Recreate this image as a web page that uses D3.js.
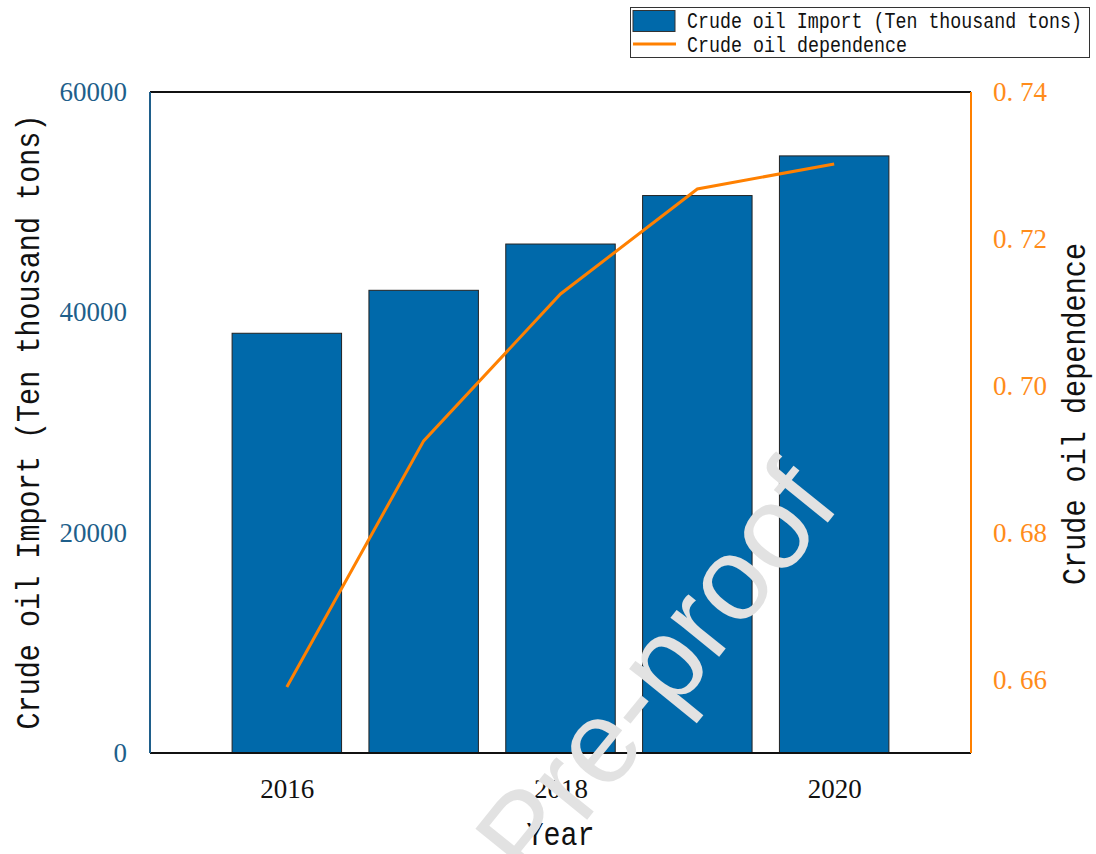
<!DOCTYPE html>
<html>
<head>
<meta charset="utf-8">
<script src="https://cdn.jsdelivr.net/npm/d3@7"></script>
<style>
  body { margin: 0; background: #fff; }
  svg { display: block; }
</style>
</head>
<body>
<div class="oil-viz"></div>
<script>
const WIDTH = 1096,
    HEIGHT = 854;

// data
const years = [2016, 2017, 2018, 2019, 2020];
const importValues = [38100, 42000, 46200, 50600, 54200];
const dependenceValues = [0.659, 0.6925, 0.7125, 0.7268, 0.7302];
const leftTicks = [0, 20000, 40000, 60000];
const rightTicks = [0.66, 0.68, 0.70, 0.72, 0.74];
const xTicks = [2016, 2018, 2020];

const BLUE = "#0069aa",
    ORANGE = "#ff8000",
    MONO = "'Liberation Mono', monospace",
    SERIF = "'Liberation Serif', serif";

const plot = { left: 150, right: 971, top: 92, bottom: 753 };

const svg = d3.select(".oil-viz")
    .append("svg")
    .attr("width", WIDTH)
    .attr("height", HEIGHT);

const x = d3.scaleLinear().domain([2015, 2021]).range([plot.left, plot.right]);
const yLeft = d3.scaleLinear().domain([0, 60000]).range([plot.bottom, plot.top]);
const yRight = d3.scaleLinear().domain([0.65, 0.74]).range([plot.bottom, plot.top]);

const barW = x(2015.8) - x(2015);

// bars
svg.append("g")
    .selectAll("rect")
    .data(years)
    .join("rect")
    .attr("x", (d) => x(d) - barW / 2)
    .attr("y", (d, i) => yLeft(importValues[i]))
    .attr("width", barW)
    .attr("height", (d, i) => yLeft(0) - yLeft(importValues[i]))
    .attr("fill", BLUE)
    .attr("stroke", "#222")
    .attr("stroke-width", 1);

// dependence line
const line = d3.line()
    .x((d) => x(d[0]))
    .y((d) => yRight(d[1]));

svg.append("path")
    .datum(years.map((y, i) => [y, dependenceValues[i]]))
    .attr("d", line)
    .attr("fill", "none")
    .attr("stroke", ORANGE)
    .attr("stroke-width", 3);

// axes
const gLeft = svg.append("g")
    .attr("transform", `translate(${plot.left},0)`)
    .call(d3.axisLeft(yLeft).tickValues(leftTicks).tickSize(0).tickPadding(23).tickFormat(d3.format("d")));

const gRight = svg.append("g")
    .attr("transform", `translate(${plot.right},0)`)
    .call(d3.axisRight(yRight).tickValues(rightTicks).tickSize(0).tickPadding(22)
        .tickFormat((d) => d3.format(".2f")(d).replace(".", ". ")));

const gBottom = svg.append("g")
    .attr("transform", `translate(0,${plot.bottom})`)
    .call(d3.axisBottom(x).tickValues(xTicks).tickSize(0).tickPadding(26).tickFormat(d3.format("d")));

[gLeft, gRight, gBottom].forEach((g) => {
    g.select(".domain").remove();
    g.selectAll("text").style("font-family", SERIF).style("font-size", "27px");
});
gLeft.selectAll("text").attr("fill", "#1f5f8b");
gRight.selectAll("text").attr("fill", "#ff8c1a");
gBottom.selectAll("text").attr("fill", "#111");

// spines
const spine = (x1, y1, x2, y2, color) => svg.append("line")
    .attr("x1", x1).attr("y1", y1).attr("x2", x2).attr("y2", y2)
    .attr("stroke", color).attr("stroke-width", 2);
spine(plot.left, plot.top, plot.right, plot.top, "#111");
spine(plot.left, plot.bottom, plot.right, plot.bottom, "#111");
spine(plot.left, plot.top, plot.left, plot.bottom, "#1f5f8b");
spine(plot.right, plot.top, plot.right, plot.bottom, ORANGE);

// axis titles
svg.append("text")
    .attr("transform", "translate(39,422) rotate(-90)")
    .attr("text-anchor", "middle")
    .attr("textLength", 615)
    .attr("lengthAdjust", "spacingAndGlyphs")
    .style("font-family", MONO)
    .style("font-size", "33px")
    .attr("fill", "#111")
    .text("Crude oil Import (Ten thousand tons)");

svg.append("text")
    .attr("transform", `translate(1085,${(243 + 585) / 2}) rotate(-90)`)
    .attr("text-anchor", "middle")
    .attr("textLength", 342)
    .attr("lengthAdjust", "spacingAndGlyphs")
    .style("font-family", MONO)
    .style("font-size", "33px")
    .attr("fill", "#111")
    .text("Crude oil dependence");

svg.append("text")
    .attr("x", (plot.left + plot.right) / 2)
    .attr("y", 845)
    .attr("text-anchor", "middle")
    .attr("textLength", 68)
    .attr("lengthAdjust", "spacingAndGlyphs")
    .style("font-family", MONO)
    .style("font-size", "33px")
    .attr("fill", "#111")
    .text("Year");

// legend
const legend = svg.append("g");
legend.append("rect")
    .attr("x", 630.5).attr("y", 7.5).attr("width", 459).attr("height", 50)
    .attr("fill", "#fff").attr("stroke", "#333").attr("stroke-width", 1);
legend.append("rect")
    .attr("x", 633).attr("y", 10.5).attr("width", 42).attr("height", 21)
    .attr("fill", BLUE).attr("stroke", "#333").attr("stroke-width", 1);
legend.append("line")
    .attr("x1", 633).attr("x2", 676).attr("y1", 44).attr("y2", 44)
    .attr("stroke", ORANGE).attr("stroke-width", 3);
[["Crude oil Import (Ten thousand tons)", 28, 395], ["Crude oil dependence", 52, 220]].forEach(([label, y, len]) => {
    legend.append("text")
        .attr("x", 687).attr("y", y)
        .attr("textLength", len)
        .attr("lengthAdjust", "spacingAndGlyphs")
        .style("font-family", MONO)
        .style("font-size", "22px")
        .attr("fill", "#111")
        .text(label);
});

// watermark
svg.append("text")
    .attr("transform", "translate(842,505) rotate(-51)")
    .attr("text-anchor", "end")
    .style("font-family", "'Liberation Sans', Arial, sans-serif")
    .style("font-size", "118px")
    .attr("fill", "#e2e2e2")
    .text("Journal Pre-proof");
</script>
</body>
</html>
